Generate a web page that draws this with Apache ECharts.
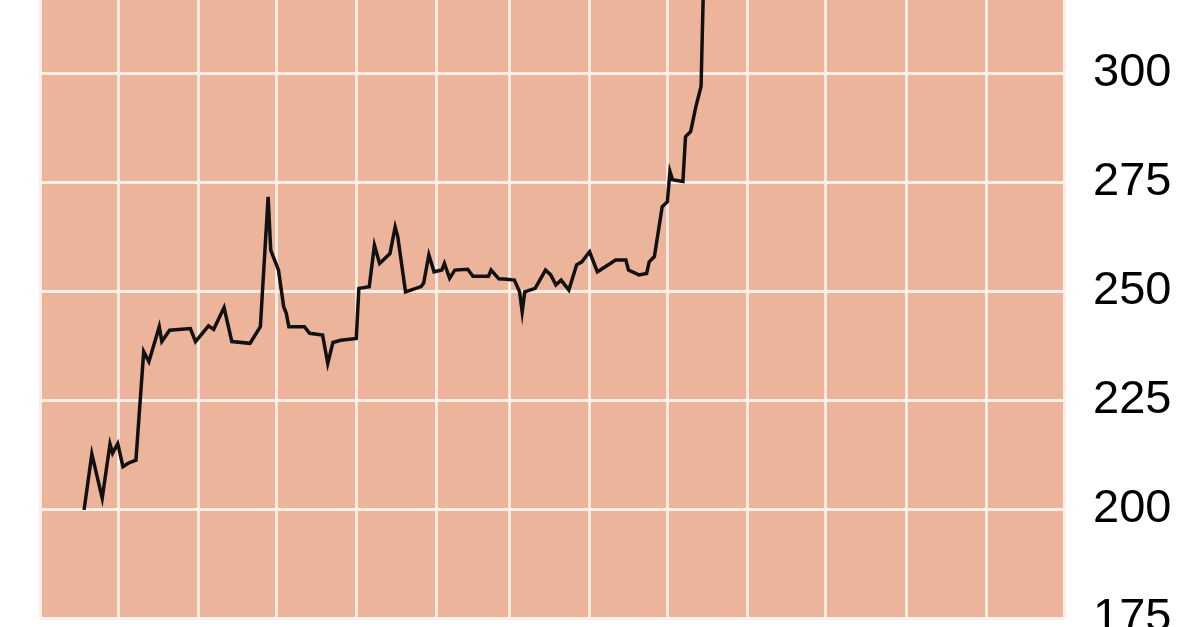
<!DOCTYPE html>
<html>
<head>
<meta charset="utf-8">
<style>
  html, body { margin: 0; padding: 0; background: #ffffff; }
  #chart { width: 1200px; height: 627px; }
</style>
<script src="https://cdn.jsdelivr.net/npm/echarts@6/dist/echarts.min.js"></script>
</head>
<body>
<div id="chart"></div>
<script>
// Dates of observations
const dates = [
  '2020-09-18','2020-09-21','2020-09-25','2020-09-28','2020-09-29','2020-10-01','2020-10-03','2020-10-05',
  '2020-10-08','2020-10-11','2020-10-13','2020-10-17','2020-10-18','2020-10-21','2020-10-29','2020-10-31',
  '2020-11-05','2020-11-07','2020-11-11','2020-11-14','2020-11-21','2020-11-25','2020-11-28','2020-11-29',
  '2020-12-02','2020-12-04','2020-12-05','2020-12-06','2020-12-12','2020-12-14','2020-12-19','2020-12-21',
  '2020-12-23','2020-12-26','2021-01-01','2021-01-02','2021-01-06','2021-01-08','2021-01-10','2021-01-14',
  '2021-01-16','2021-01-17','2021-01-20','2021-01-26','2021-01-27','2021-01-29','2021-01-31','2021-02-03',
  '2021-02-04','2021-02-06','2021-02-08','2021-02-13','2021-02-15','2021-02-21','2021-02-22','2021-02-25',
  '2021-02-28','2021-03-03','2021-03-05','2021-03-06','2021-03-07','2021-03-11','2021-03-15','2021-03-17',
  '2021-03-19','2021-03-21','2021-03-24','2021-03-27','2021-03-29','2021-04-01','2021-04-04','2021-04-09',
  '2021-04-11','2021-04-15','2021-04-16','2021-04-19','2021-04-20','2021-04-23','2021-04-24','2021-04-26',
  '2021-04-29','2021-05-01','2021-05-02','2021-05-03','2021-05-07','2021-05-08','2021-05-10','2021-05-12',
  '2021-05-14','2021-05-15'
];
// Values
const values = [
  199.8, 212.6, 202.5, 214.9, 212.8, 215.0, 209.7, 210.5,
  211.2, 236.1, 233.8, 241.8, 238.4, 241.0, 241.4, 238.4,
  242.0, 241.2, 246.2, 238.4, 238.0, 241.8, 271.6, 259.4,
  254.8, 246.4, 244.9, 241.8, 241.8, 240.3, 239.9, 233.4,
  238.2, 238.7, 239.1, 250.6, 251.0, 260.5, 256.3, 258.6,
  264.7, 262.5, 249.8, 251.0, 251.8, 258.3, 254.4, 254.8,
  256.3, 252.9, 254.8, 255.0, 253.4, 253.4, 254.8, 252.8,
  252.7, 252.5, 249.8, 245.2, 249.8, 250.6, 254.8, 253.7,
  251.4, 252.5, 250.2, 256.0, 256.7, 259.0, 254.4, 256.3,
  257.1, 257.1, 254.8, 254.0, 253.7, 254.0, 256.7, 257.9,
  269.3, 270.5, 277.4, 275.5, 275.1, 285.4, 286.6, 292.3,
  296.9, 322.0
];
// Axis settings
const xStart = '2020-09-01';
const xEnd = '2021-10-01';
const yTicks = [175, 200, 225, 250, 275, 300, 325];

const chart = echarts.init(document.getElementById('chart'), null, { renderer: 'canvas' });
const option = {
  animation: false,
  backgroundColor: '#ffffff',
  grid: {
    left: 40,
    right: 136,
    top: -36,
    bottom: 9,
    containLabel: false,
    outerBoundsMode: 'none',
    show: true,
    backgroundColor: '#ECB49A',
    borderWidth: 0
  },
  xAxis: {
    type: 'time',
    min: xStart,
    max: xEnd,
    splitNumber: 13,
    axisLine: { show: false },
    axisTick: { show: false },
    axisLabel: { show: false },
    splitLine: { show: true, lineStyle: { color: '#FCEFE8', width: 2.8 } }
  },
  yAxis: {
    type: 'value',
    position: 'right',
    min: yTicks[0],
    max: yTicks[yTicks.length - 1],
    interval: 25,
    axisLine: { show: false },
    axisTick: { show: false },
    axisLabel: {
      show: true,
      showMaxLabel: false,
      margin: 29,
      fontSize: 47,
      color: '#000000',
      fontFamily: 'Liberation Sans, Arial, Helvetica, sans-serif'
    },
    splitLine: { show: true, lineStyle: { color: '#FCEFE8', width: 2.8 } }
  },
  series: [{
    type: 'line',
    data: dates.map((d, i) => [d, values[i]]),
    showSymbol: false,
    symbol: 'none',
    clip: true,
    lineStyle: { color: '#111111', width: 3.5, join: 'miter' },
    z: 5
  }]
};
chart.setOption(option);
</script>
</body>
</html>
